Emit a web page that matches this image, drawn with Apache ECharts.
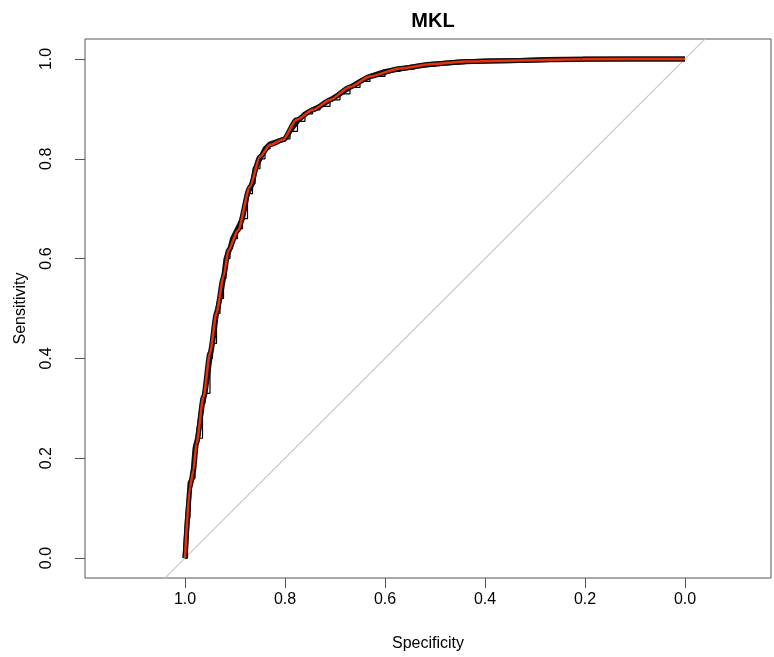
<!DOCTYPE html>
<html>
<head>
<meta charset="utf-8">
<script src="https://cdn.jsdelivr.net/npm/echarts@6/dist/echarts.min.js"></script>
<style>html,body{margin:0;padding:0;background:#fff;}#c{width:774px;height:657px;}</style>
</head>
<body>
<div id="c"></div>
<script>
// Smoothed ROC curve (red)
const smoothSpec = [1.0, 0.99, 0.983, 0.977, 0.963, 0.95, 0.937, 0.923, 0.913, 0.894, 0.87, 0.85, 0.83, 0.804, 0.777, 0.744, 0.71, 0.67, 0.63, 0.57, 0.504, 0.436, 0.336, 0.204, 0.0];
const smoothSens = [0.0, 0.143, 0.176, 0.23, 0.323, 0.411, 0.491, 0.564, 0.617, 0.657, 0.744, 0.804, 0.828, 0.838, 0.878, 0.898, 0.918, 0.944, 0.965, 0.981, 0.99, 0.995, 0.997, 0.9996, 1.0];
// Empirical / bootstrap ROC curves (black)
const empSpec = [1.0, 0.995, 0.99, 0.985, 0.98, 0.975, 0.965, 0.96, 0.95, 0.945, 0.937, 0.93, 0.923, 0.918, 0.91, 0.905, 0.895, 0.885, 0.875, 0.865, 0.86, 0.85, 0.84, 0.83, 0.815, 0.80, 0.79, 0.775, 0.76, 0.745, 0.73, 0.71, 0.69, 0.67, 0.65, 0.63, 0.60, 0.57, 0.54, 0.50, 0.45, 0.40, 0.33, 0.28, 0.2, 0.0];
const empSens = [0.0, 0.08, 0.15, 0.16, 0.22, 0.24, 0.31, 0.33, 0.40, 0.43, 0.49, 0.52, 0.56, 0.60, 0.62, 0.64, 0.66, 0.68, 0.73, 0.75, 0.78, 0.80, 0.82, 0.83, 0.835, 0.84, 0.855, 0.875, 0.89, 0.898, 0.905, 0.918, 0.93, 0.943, 0.955, 0.965, 0.975, 0.98, 0.985, 0.99, 0.994, 0.996, 0.997, 0.999, 1.0, 1.0];
// Chance diagonal
const diagSpec = [1.3, -0.3];
const diagSens = [-0.3, 1.3];
const tickValues = [0, 0.2, 0.4, 0.6, 0.8, 1.0];

const zip = (a, b) => a.map((v, i) => [v, b[i]]);
const FONT = 'Liberation Sans, Arial, Helvetica, sans-serif';

const chart = echarts.init(document.getElementById('c'), null, {renderer: 'canvas'});
chart.setOption({
  animation: false,
  backgroundColor: '#ffffff',
  title: {
    text: 'MKL', left: 428, top: 6, textAlign: 'center',
    textStyle: {fontFamily: FONT, fontSize: 20, fontWeight: 'bold', color: '#000'}
  },
  grid: {
    left: 85, right: 3, top: 39, bottom: 79, containLabel: false,
    show: true, borderColor: '#555', borderWidth: 1, backgroundColor: 'transparent'
  },
  xAxis: {
    type: 'value', inverse: true, min: -0.172, max: 1.2,
    name: 'Specificity', nameLocation: 'middle', nameGap: 58,
    nameTextStyle: {fontFamily: FONT, fontSize: 16, color: '#000'},
    axisLine: {show: false, onZero: false},
    splitLine: {show: false},
    axisTick: {show: true, inside: false, customValues: tickValues, length: 10, lineStyle: {color: '#555'}},
    axisLabel: {customValues: tickValues, margin: 14, fontFamily: FONT, fontSize: 16, color: '#000',
      formatter: v => v.toFixed(1)}
  },
  yAxis: {
    type: 'value', min: -0.04, max: 1.04,
    name: 'Sensitivity', nameLocation: 'middle', nameGap: 56,
    nameTextStyle: {fontFamily: FONT, fontSize: 16, color: '#000'},
    axisLine: {show: false, onZero: false},
    splitLine: {show: false},
    axisTick: {show: true, inside: false, customValues: tickValues, length: 10, lineStyle: {color: '#555'}},
    axisLabel: {customValues: tickValues, rotate: 90, margin: 30, fontFamily: FONT, fontSize: 16, color: '#000',
      formatter: v => v.toFixed(1)}
  },
  series: [
    {type: 'line', data: zip(diagSpec, diagSens), showSymbol: false, clip: true,
      lineStyle: {color: '#c8c8c8', width: 1.2}},
    {type: 'line', data: zip(empSpec, empSens), showSymbol: false, clip: true,
      lineStyle: {color: '#111', width: 5}},
    {type: 'line', data: zip(smoothSpec, smoothSens), showSymbol: false, smooth: 0.25, smoothMonotone: 'x', clip: true,
      lineStyle: {color: '#111', width: 5}},
    {type: 'line', data: zip(empSpec, empSens), showSymbol: false, step: 'end', clip: true,
      lineStyle: {color: '#000', width: 1.2}},
    {type: 'line', data: zip(smoothSpec, smoothSens), showSymbol: false, smooth: 0.25, smoothMonotone: 'x', clip: true,
      lineStyle: {color: '#e8300c', width: 2.5}}
  ]
});
</script>
</body>
</html>
